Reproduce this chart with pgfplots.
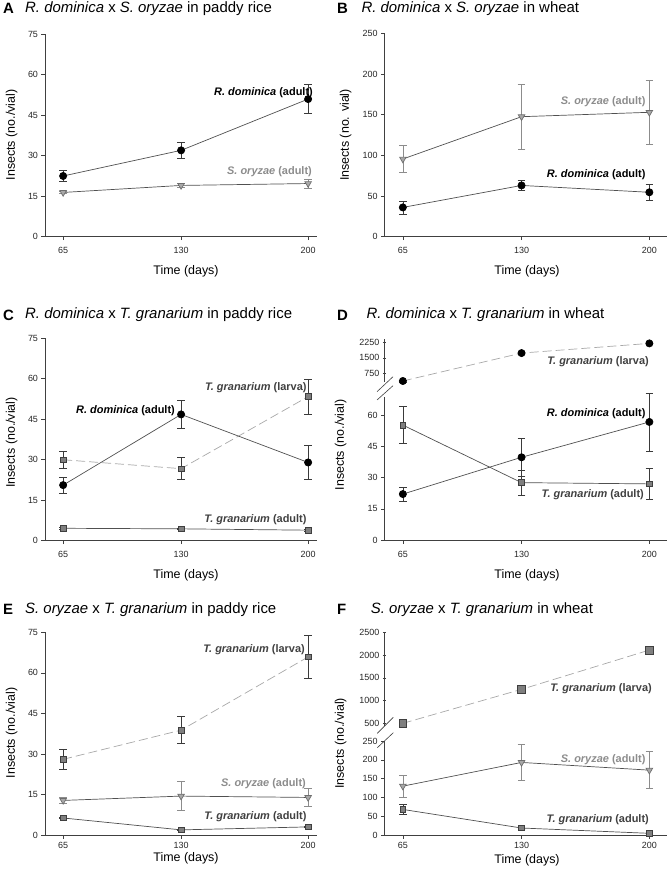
\documentclass[border=0pt]{standalone}
\usepackage{pgfplots}
\pgfplotsset{compat=1.18}
\usepackage{fontspec}
\setmainfont{Liberation Sans}
\definecolor{axgray}{HTML}{404040}
\definecolor{linegray}{HTML}{505050}
\definecolor{dashgray}{HTML}{A8A8A8}
\definecolor{errgray}{HTML}{3A3A3A}
\definecolor{serrgray}{HTML}{8C8C8C}
\definecolor{trifill}{HTML}{A8A8A8}
\definecolor{triedge}{HTML}{6E6E6E}
\definecolor{sqfill}{HTML}{7F7F7F}
\definecolor{sqedge}{HTML}{3F3F3F}
\definecolor{soryzae}{HTML}{8C8C8C}
\definecolor{tgran}{HTML}{404040}
\newcommand\tfont{\fontsize{15}{17}\selectfont}
\newcommand\lfont{\fontsize{12.5}{15}\selectfont}
\newcommand\dfont{\fontsize{11}{13}\selectfont\bfseries}
\pgfplotsset{
  panel/.style={scale only axis, axis lines=left,
    axis line style={-, draw=axgray, line width=0.7bp},
    tick align=outside, major tick length=3.5bp,
    tick style={draw=axgray, line width=0.6bp},
    ticklabel style={font=\fontsize{9}{10}\selectfont, text=black!85},
    xticklabel style={yshift=-4bp},
    /pgf/number format/assume math mode=true,
    /pgf/number format/set thousands separator={},
    xtick={65,130,200}, clip=false, anchor=south west},
  upper/.style={axis x line=none, axis y line=left, xtick=\empty,
    y axis line style={-}},
  errb/.style={error bars/.cd, y dir=both, y explicit,
    error bar style={line width=0.6bp, draw=errgray, solid},
    error mark options={line width=0.6bp, draw=errgray, mark size=3.8bp, rotate=90, solid}},
  errs/.style={error bars/.cd, y dir=both, y explicit,
    error bar style={line width=0.6bp, draw=serrgray, solid},
    error mark options={line width=0.6bp, draw=serrgray, mark size=3.8bp, rotate=90, solid}},
  rdom/.style={draw=linegray, line width=0.7bp, mark=*, mark size=3.6bp,
    mark options={fill=black, draw=black, solid}},
  sory/.style={draw=linegray, line width=0.7bp, mark=triangle*, mark size=3.8bp,
    mark options={fill=trifill, draw=triedge, rotate=180, solid}},
  tgad/.style={draw=linegray, line width=0.7bp, mark=square*, mark size=2.8bp,
    mark options={fill=sqfill, draw=sqedge, solid}},
  tglar/.style={draw=dashgray, line width=0.7bp, dash pattern=on 9bp off 4bp,
    mark=square*, mark size=2.8bp, mark options={fill=sqfill, draw=sqedge, solid}},
}
\begin{document}
\begin{tikzpicture}
\useasboundingbox (0,0) rectangle (668bp,-877bp);

%% ---------------- Panel A
\begin{axis}[panel, at={(45bp,-236.7bp)}, width=272.2bp, height=202.4bp,
  xmin=55, xmax=205, ymin=0, ymax=75, ytick={0,15,...,75}]
\addplot[sory, errs] coordinates {(65,16.4) +- (0,0.5) (130,19.0) +- (0,0.8) (200,19.7) +- (0,1.6)};
\addplot[rdom, errb] coordinates {(65,22.5) +- (0,2.0) (130,32.0) +- (0,2.8) (200,51.0) +- (0,5.4)};
\end{axis}
\node[anchor=west, inner sep=0, font=\tfont\bfseries] at (3bp,-8.3bp) {A};
\node[anchor=west, inner sep=0, font=\tfont] at (25bp,-8.3bp) {\textit{R. dominica} x \textit{S. oryzae} in paddy rice};
\node[rotate=90, font=\lfont] at (11.7bp,-135bp) {Insects (no./vial)};
\node[font=\lfont] at (186bp,-271bp) {Time (days)};
\node[anchor=east, inner sep=0, font=\dfont] at (313bp,-93bp) {\textit{R. dominica} (adult)};
\node[anchor=east, inner sep=0, font=\dfont, text=soryzae] at (312bp,-172bp) {\textit{S. oryzae} (adult)};

%% ---------------- Panel B
\begin{axis}[panel, at={(384.6bp,-236.7bp)}, width=282.1bp, height=203.4bp,
  xmin=55, xmax=209.5, ymin=0, ymax=250, ytick={0,50,...,250}]
\addplot[sory, errs] coordinates {(65,95.5) +- (0,16.5) (130,147.5) +- (0,40) (200,152.9) +- (0,39.3)};
\addplot[rdom, errb] coordinates {(65,36) +- (0,8) (130,63) +- (0,6) (200,54.6) +- (0,10)};
\end{axis}
\node[anchor=west, inner sep=0, font=\tfont\bfseries] at (337bp,-8.3bp) {B};
\node[anchor=west, inner sep=0, font=\tfont] at (361.3bp,-8.3bp) {\textit{R. dominica} x \textit{S. oryzae} in wheat};
\node[rotate=90, font=\lfont] at (345.7bp,-135bp) {Insects (no. vial)};
\node[font=\lfont] at (527bp,-271bp) {Time (days)};
\node[anchor=east, inner sep=0, font=\dfont, text=soryzae] at (645.7bp,-102bp) {\textit{S. oryzae} (adult)};
\node[anchor=east, inner sep=0, font=\dfont] at (645.7bp,-174.3bp) {\textit{R. dominica} (adult)};

%% ---------------- Panel C
\begin{axis}[panel, at={(45bp,-540.7bp)}, width=272.2bp, height=202.4bp,
  xmin=55, xmax=205, ymin=0, ymax=75, ytick={0,15,...,75}]
\addplot[tgad, errb] coordinates {(65,4.6) +- (0,0.3) (130,4.4) +- (0,0.3) (200,3.9) +- (0,0.3)};
\addplot[tglar, errb] coordinates {(65,30.0) +- (0,3.3) (130,26.7) +- (0,4.1) (200,53.4) +- (0,6.4)};
\addplot[rdom, errb] coordinates {(65,20.6) +- (0,2.9) (130,46.8) +- (0,5.2) (200,29.0) +- (0,6.2)};
\end{axis}
\node[anchor=west, inner sep=0, font=\tfont\bfseries] at (3bp,-315bp) {C};
\node[anchor=west, inner sep=0, font=\tfont] at (25bp,-315bp) {\textit{R. dominica} x \textit{T. granarium} in paddy rice};
\node[rotate=90, font=\lfont] at (11.7bp,-442.5bp) {Insects (no./vial)};
\node[font=\lfont] at (186bp,-575bp) {Time (days)};
\node[anchor=east, inner sep=0, font=\dfont, text=tgran] at (306.7bp,-387.3bp) {\textit{T. granarium} (larva)};
\node[anchor=east, inner sep=0, font=\dfont] at (175bp,-410.7bp) {\textit{R. dominica} (adult)};
\node[anchor=east, inner sep=0, font=\dfont, text=tgran] at (306.7bp,-519.3bp) {\textit{T. granarium} (adult)};

%% ---------------- Panel D
\begin{axis}[panel, at={(384.6bp,-540bp)}, width=282.1bp, height=143.4bp,
  xmin=55, xmax=209.5, ymin=0, ymax=69, ytick={0,15,30,45,60}]
\addplot[tgad, errb] coordinates {(65,55.3) +- (0,8.8) (130,27.6) +- (0,6) (200,27.0) +- (0,7.4)};
\addplot[rdom, errb] coordinates {(65,22.1) +- (0,3.5) (130,39.8) +- (0,9) (200,56.8) +- (0,14)};
\end{axis}
\begin{axis}[panel, upper, at={(384.6bp,-382.1bp)}, width=282.1bp, height=43.5bp,
  xmin=55, xmax=209.5, ymin=300, ymax=2450, ytick={750,1500,2250}]
\addplot[rdom, draw=dashgray, dash pattern=on 9bp off 4bp, errb] coordinates {(65,355) +- (0,40) (130,1735) +- (0,40) (200,2213) +- (0,40)};
\end{axis}
\draw[axgray, line width=0.6bp] (377bp,-391.7bp) -- (393bp,-376.7bp);
\draw[axgray, line width=0.6bp] (377bp,-400bp) -- (393bp,-385.7bp);
\node[anchor=west, inner sep=0, font=\tfont\bfseries] at (337bp,-315bp) {D};
\node[anchor=west, inner sep=0, font=\tfont] at (366.3bp,-315bp) {\textit{R. dominica} x \textit{T. granarium} in wheat};
\node[rotate=90, font=\lfont] at (340.7bp,-445bp) {Insects (no./vial)};
\node[font=\lfont] at (527bp,-575bp) {Time (days)};
\node[anchor=east, inner sep=0, font=\dfont, text=tgran] at (649bp,-361.7bp) {\textit{T. granarium} (larva)};
\node[anchor=east, inner sep=0, font=\dfont] at (645.7bp,-414bp) {\textit{R. dominica} (adult)};
\node[anchor=east, inner sep=0, font=\dfont, text=tgran] at (644bp,-495bp) {\textit{T. granarium} (adult)};

%% ---------------- Panel E
\begin{axis}[panel, at={(45bp,-835bp)}, width=272.2bp, height=202.7bp,
  xmin=55, xmax=205, ymin=0, ymax=75, ytick={0,15,...,75},
  xticklabel style={yshift=4bp}]
\addplot[tgad, errb] coordinates {(65,6.3) +- (0,0.3) (130,1.9) +- (0,0.3) (200,3.0) +- (0,0.3)};
\addplot[sory, errs] coordinates {(65,12.8) +- (0,1.0) (130,14.4) +- (0,5.4) (200,13.9) +- (0,3.2)};
\addplot[tglar, errb] coordinates {(65,28.0) +- (0,3.8) (130,38.8) +- (0,5.0) (200,65.9) +- (0,8.0)};
\end{axis}
\node[anchor=west, inner sep=0, font=\tfont\bfseries] at (3bp,-609.3bp) {E};
\node[anchor=west, inner sep=0, font=\tfont] at (25bp,-609.3bp) {\textit{S. oryzae} x \textit{T. granarium} in paddy rice};
\node[rotate=90, font=\lfont] at (11.7bp,-733bp) {Insects (no./vial)};
\node[font=\lfont] at (186bp,-858.7bp) {Time (days)};
\node[anchor=east, inner sep=0, font=\dfont, text=tgran] at (305bp,-650bp) {\textit{T. granarium} (larva)};
\node[anchor=east, inner sep=0, font=\dfont, text=soryzae] at (306bp,-784bp) {\textit{S. oryzae} (adult)};
\node[anchor=east, inner sep=0, font=\dfont, text=tgran] at (306.7bp,-816.7bp) {\textit{T. granarium} (adult)};

%% ---------------- Panel F
\begin{axis}[panel, at={(384.6bp,-835bp)}, width=282.1bp, height=94bp,
  xmin=55, xmax=209.5, ymin=0, ymax=250, ytick={0,50,...,250},
  xticklabel style={yshift=4bp}]
\addplot[tgad, errb] coordinates {(65,68) +- (0,14) (130,18.6) +- (0,3) (200,4.5) +- (0,3)};
\addplot[sory, errs] coordinates {(65,130) +- (0,29) (130,193) +- (0,47) (200,172.5) +- (0,49)};
\end{axis}
\begin{axis}[panel, upper, at={(384.6bp,-725.6bp)}, width=282.1bp, height=93.3bp,
  xmin=55, xmax=209.5, ymin=450, ymax=2500, ytick={500,1000,...,2500}]
\addplot[tglar, mark size=3.8bp, errb] coordinates {(65,500) +- (0,20) (130,1247) +- (0,50) (200,2110) +- (0,55)};
\end{axis}
\draw[axgray, line width=0.6bp] (377.3bp,-733.3bp) -- (393.3bp,-717.3bp);
\draw[axgray, line width=0.6bp] (377.3bp,-747.7bp) -- (393.3bp,-732.7bp);
\node[anchor=west, inner sep=0, font=\tfont\bfseries] at (337bp,-609.3bp) {F};
\node[anchor=west, inner sep=0, font=\tfont] at (370.7bp,-609.3bp) {\textit{S. oryzae} x \textit{T. granarium} in wheat};
\node[rotate=90, font=\lfont] at (340.7bp,-743.3bp) {Insects (no./vial)};
\node[font=\lfont] at (527bp,-860bp) {Time (days)};
\node[anchor=east, inner sep=0, font=\dfont, text=tgran] at (652bp,-689bp) {\textit{T. granarium} (larva)};
\node[anchor=east, inner sep=0, font=\dfont, text=soryzae] at (645.7bp,-759.3bp) {\textit{S. oryzae} (adult)};
\node[anchor=east, inner sep=0, font=\dfont, text=tgran] at (649bp,-820bp) {\textit{T. granarium} (adult)};
\end{tikzpicture}
\end{document}
